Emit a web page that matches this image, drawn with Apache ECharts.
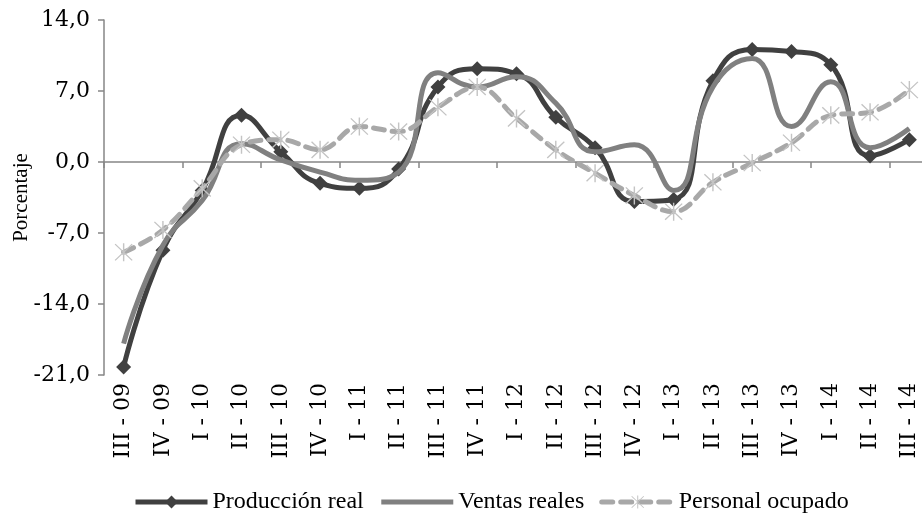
<!DOCTYPE html>
<html>
<head>
<meta charset="utf-8">
<script src="https://cdn.jsdelivr.net/npm/echarts@6/dist/echarts.min.js"></script>
<style>html,body{margin:0;padding:0;background:#fff}#c{width:922px;height:520px}</style>
</head>
<body>
<div id="c"></div>
<script>
const categories = ['III - 09','IV - 09','I - 10','II - 10','III - 10','IV - 10','I - 11','II - 11','III - 11','IV - 11','I - 12','II - 12','III - 12','IV - 12','I - 13','II - 13','III - 13','IV - 13','I - 14','II - 14','III - 14'];
const produccionReal = [-20.2,-8.7,-2.8,4.6,1.0,-2.1,-2.6,-0.7,7.4,9.2,8.7,4.4,1.4,-3.9,-3.7,8.0,11.1,10.9,9.6,0.6,2.2];
const ventasReales = [-17.9,-8.2,-3.8,1.8,0.2,-1.0,-1.8,-1.0,8.8,7.4,8.4,5.8,1.0,1.7,-2.8,7.4,10.2,3.5,7.9,1.4,3.3];
const personalOcupado = [-8.9,-6.7,-2.6,1.7,2.2,1.2,3.5,3.0,5.4,7.4,4.3,1.2,-1.1,-3.3,-4.9,-2.0,-0.1,1.9,4.6,4.9,7.1];
const seriesNames = ['Producción real','Ventas reales','Personal ocupado'];
const yMin = -21, yMax = 14, yStep = 7;

const asterisk = 'path://M9.25 0L10.75 0L10.75 20L9.25 20ZM1.5 0.5L19.5 18.5L18.5 19.5L0.5 1.5ZM18.5 0.5L19.5 1.5L1.5 19.5L0.5 18.5Z';

const chart = echarts.init(document.getElementById('c'), null, {renderer:'canvas'});
const axisGray = '#868686';
chart.setOption({
  animation: false,
  backgroundColor: '#ffffff',
  grid: {left: 104, top: 20, height: 355, width: 825, containLabel: false, outerBoundsMode: 'none'},
  legend: {
    left: 128, top: 485,
    itemWidth: 72, itemHeight: 16, itemGap: 15,
    lineStyle: {width: 5},
    textStyle: {fontFamily: 'Liberation Serif', fontSize: 24, color: '#000'},
    data: [
      {name: seriesNames[0]},
      {name: seriesNames[1], itemStyle: {color: 'rgba(0,0,0,0)', borderWidth: 0}},
      {name: seriesNames[2]}
    ]
  },
  xAxis: [{
    type: 'category', data: categories, boundaryGap: true,
    axisLine: {onZero: true, lineStyle: {color: axisGray, width: 1.5}},
    axisTick: {show: true, length: 6, inside: false, lineStyle: {color: axisGray, width: 1.5}},
    axisLabel: {show: false}
  },{
    type: 'category', data: categories, boundaryGap: true, position: 'bottom',
    axisLine: {show: false, onZero: false}, axisTick: {show: false},
    axisLabel: {show: true, rotate: 90, margin: 8, interval: 0,
      fontFamily: 'DejaVu Serif', fontSize: 22, color: '#000'}
  }],
  yAxis: {
    type: 'value', min: yMin, max: yMax, interval: yStep,
    name: 'Porcentaje', nameLocation: 'middle', nameRotate: 90, nameGap: 72,
    nameMoveOverlap: false,
    nameTextStyle: {fontFamily: 'Liberation Serif', fontSize: 21, color: '#000'},
    splitLine: {show: false},
    axisLine: {show: true, lineStyle: {color: axisGray, width: 1.5}},
    axisTick: {show: true, length: 6, lineStyle: {color: axisGray, width: 1.5}},
    axisLabel: {margin: 14, fontFamily: 'DejaVu Serif', fontSize: 22, color: '#000',
      formatter: v => v.toFixed(1).replace('.', ',')}
  },
  series: [{
    name: seriesNames[0], type: 'line', data: produccionReal, smooth: 0.5,
    symbol: 'diamond', symbolSize: 15, showSymbol: true,
    lineStyle: {color: '#404040', width: 5},
    itemStyle: {color: '#404040'}, z: 2
  },{
    name: seriesNames[1], type: 'line', data: ventasReales, smooth: 0.5,
    symbol: 'none', showSymbol: false,
    lineStyle: {color: '#808080', width: 5},
    itemStyle: {color: '#808080'}, z: 3
  },{
    name: seriesNames[2], type: 'line', data: personalOcupado, smooth: 0.4,
    symbol: asterisk, symbolSize: 18,
    lineStyle: {color: '#A8A8A8', width: 5, type: [11, 8], cap: 'round'},
    itemStyle: {color: '#C4C4C4'}, z: 4
  }]
});
</script>
</body>
</html>
